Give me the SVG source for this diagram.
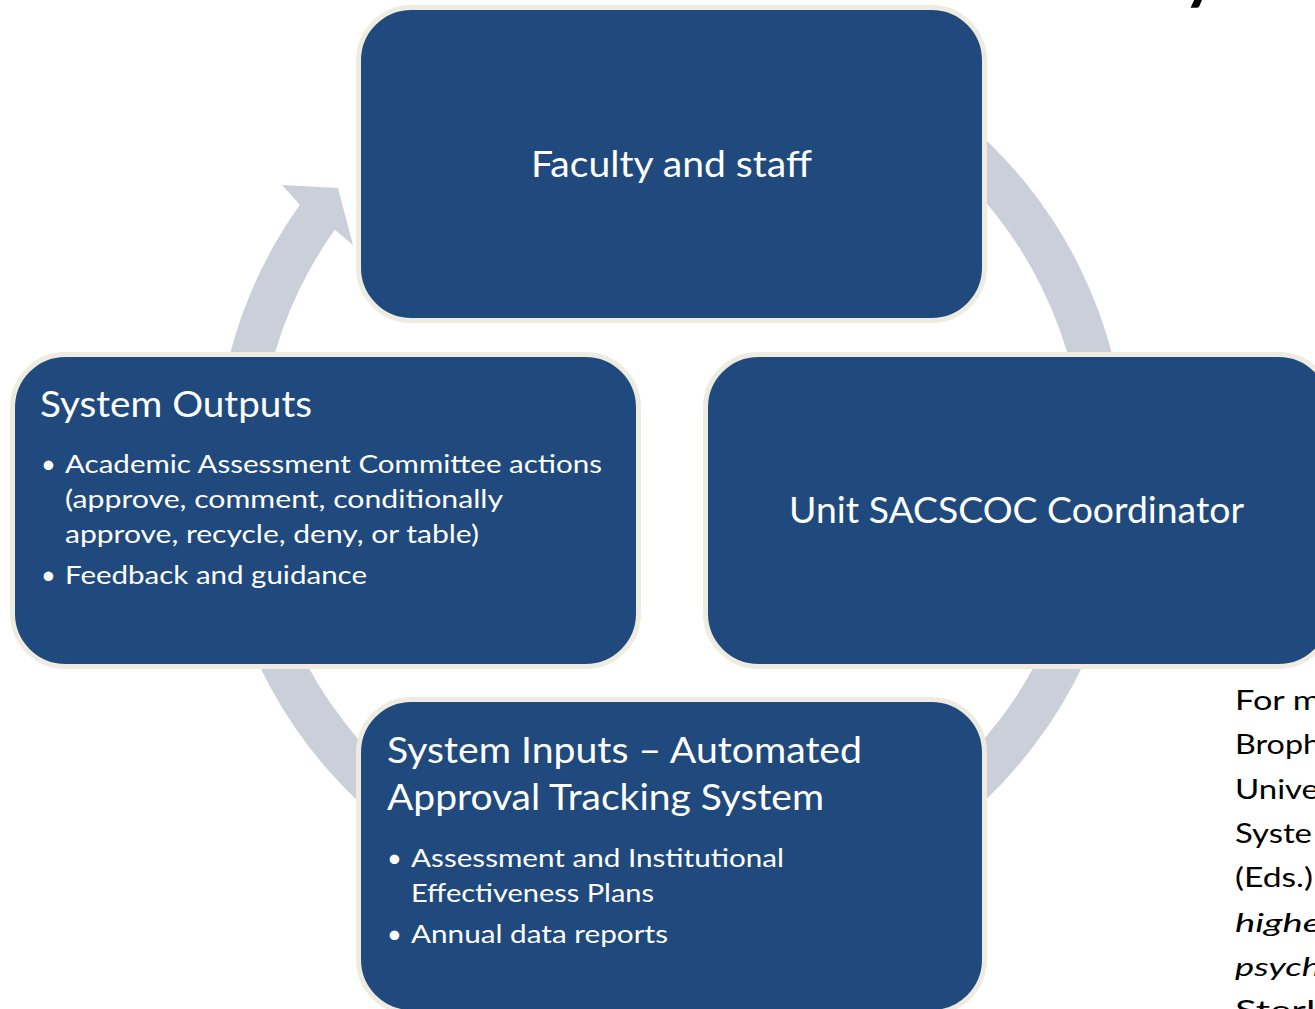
<svg xmlns="http://www.w3.org/2000/svg" width="1315" height="1009" viewBox="0 0 1315 1009">
  <style>
    .box { fill: #204A7D; stroke: #EEECE1; stroke-width: 5; }
    .ring { fill: #CBCFDA; }
    .t { fill: #FFFFFF; font-family: Lato, "Open Sans", sans-serif; }
    .big { font-size: 36px; }
    .small { font-size: 25.5px; }
    .side { fill: #000000; font-family: Lato, "Open Sans", sans-serif; font-size: 26px; }
    .title { fill: #000000; font-family: Lato, "Open Sans", sans-serif; font-size: 60px; font-weight: 900; }
  </style>

  <rect width="1315" height="1009" fill="#FFFFFF"/>

  <!-- heading above the diagram, only its lowest stroke falls inside the frame -->
  <text class="title" x="1184" y="-2">y</text>

  <!-- cycle ring with arrowhead, drawn behind the boxes -->
  <g id="connectors">
    <path class="ring" d="M 671,13.6 A 456 456 0 1 1 299.8,204.8 L 282,185 L 338,188 L 353,245 L 334.8,229.8 A 413 413 0 1 0 671,56.6 Z"/>
  </g>

  <g id="faculty-staff">
    <rect class="box" x="358.5" y="7.5" width="626" height="313" rx="53" ry="53"/>
    <text class="t big" x="531" y="177" textLength="281" lengthAdjust="spacingAndGlyphs">Faculty and staff</text>
  </g>

  <g id="system-outputs">
    <rect class="box" x="12.5" y="354.5" width="626" height="312" rx="53" ry="53"/>
    <text class="t big" x="40" y="417" textLength="272" lengthAdjust="spacingAndGlyphs">System Outputs</text>
    <text class="t small" x="41" y="473">•</text>
    <text class="t small" x="65" y="473" textLength="537" lengthAdjust="spacingAndGlyphs">Academic Assessment Committee actions</text>
    <text class="t small" x="65" y="508" textLength="438" lengthAdjust="spacingAndGlyphs">(approve, comment, conditionally</text>
    <text class="t small" x="65" y="543" textLength="414" lengthAdjust="spacingAndGlyphs">approve, recycle, deny, or table)</text>
    <text class="t small" x="41" y="584">•</text>
    <text class="t small" x="65" y="584" textLength="302" lengthAdjust="spacingAndGlyphs">Feedback and guidance</text>
  </g>

  <g id="unit-coordinator">
    <rect class="box" x="705.5" y="354.5" width="626" height="312" rx="53" ry="53"/>
    <text class="t big" x="789" y="523" textLength="455" lengthAdjust="spacingAndGlyphs">Unit SACSCOC Coordinator</text>
  </g>

  <g id="system-inputs">
    <rect class="box" x="358.5" y="699.5" width="626" height="313" rx="53" ry="53"/>
    <text class="t big" x="387" y="763" textLength="475" lengthAdjust="spacingAndGlyphs">System Inputs – Automated</text>
    <text class="t big" x="387" y="810" textLength="437" lengthAdjust="spacingAndGlyphs">Approval Tracking System</text>
    <text class="t small" x="387" y="867">•</text>
    <text class="t small" x="411" y="867" textLength="373" lengthAdjust="spacingAndGlyphs">Assessment and Institutional</text>
    <text class="t small" x="411" y="902" textLength="243" lengthAdjust="spacingAndGlyphs">Effectiveness Plans</text>
    <text class="t small" x="387" y="943">•</text>
    <text class="t small" x="411" y="943" textLength="257" lengthAdjust="spacingAndGlyphs">Annual data reports</text>
  </g>

  <!-- side note running off the right edge -->
  <g id="side-note">
    <text class="side" x="1235" y="710" textLength="86" lengthAdjust="spacingAndGlyphs">For m</text>
    <text class="side" x="1235" y="754" textLength="86" lengthAdjust="spacingAndGlyphs">Broph</text>
    <text class="side" x="1235" y="799" textLength="84" lengthAdjust="spacingAndGlyphs">Unive</text>
    <text class="side" x="1235" y="843" textLength="77" lengthAdjust="spacingAndGlyphs">Syste</text>
    <text class="side" x="1235" y="887" textLength="78" lengthAdjust="spacingAndGlyphs">(Eds.)</text>
    <text class="side" x="1235" y="932" font-style="italic" textLength="86" lengthAdjust="spacingAndGlyphs">highe</text>
    <text class="side" x="1235" y="976" font-style="italic" textLength="86" lengthAdjust="spacingAndGlyphs">psych</text>
    <text class="side" x="1235" y="1020" textLength="90" lengthAdjust="spacingAndGlyphs">Sterli</text>
  </g>
</svg>
